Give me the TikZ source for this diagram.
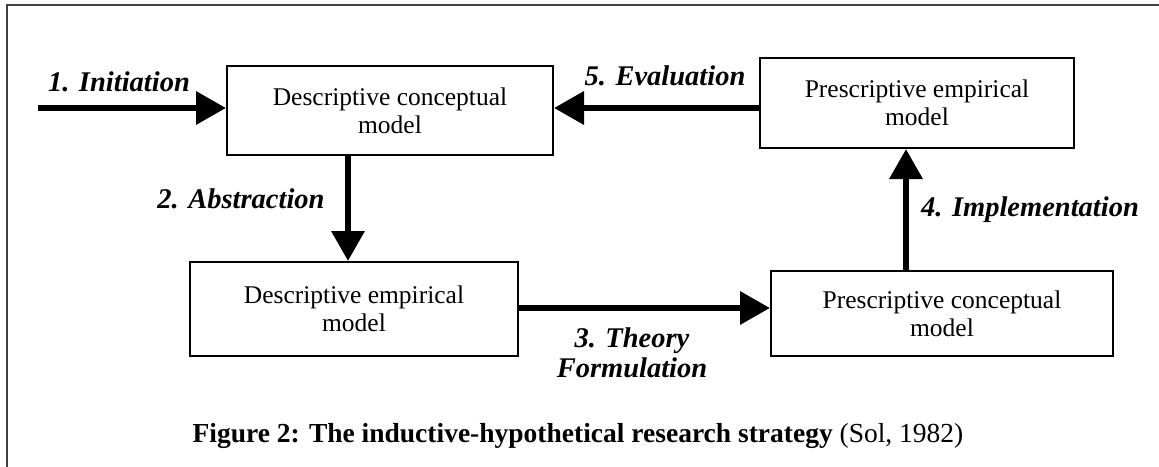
\documentclass[tikz,border=0pt]{standalone}
\usepackage{fontspec}
\setmainfont{Liberation Serif}
\usetikzlibrary{arrows.meta}
\begin{document}
\begin{tikzpicture}[x=1pt,y=-1pt,
  box/.style={draw, line width=2pt, align=center, font=\fontsize{25.5}{28}\selectfont, inner sep=0pt},
  flow/.style={line width=6.5pt, -{Triangle[length=30pt,width=32pt]}},
  lab/.style={font=\fontsize{28.5}{30}\selectfont\bfseries\itshape, anchor=base, inner sep=0pt}]
\useasboundingbox (0,0) rectangle (1159,466);
\draw[line width=1.5pt, black!75] (7,480) -- (7,5) -- (1175,5);
\node[box, minimum width=326pt, minimum height=89pt] (dcm) at (390,110.5) {Descriptive conceptual\\model};
\node[box, minimum width=314pt, minimum height=90pt] (pem) at (917,103) {Prescriptive empirical\\model};
\node[box, minimum width=328pt, minimum height=94pt] (dem) at (354,309) {Descriptive empirical\\model};
\node[box, minimum width=342pt, minimum height=85pt] (pcm) at (942,313.5) {Prescriptive conceptual\\model};
\coordinate (start) at (38,108);
\draw[flow] (start) -- (start -| dcm.west);
\draw[flow] ([yshift=-5pt]pem.west) -- ([yshift=2.5pt]dcm.east);
\draw[flow] ([xshift=-42pt]dcm.south) -- ([xshift=-6pt]dem.north);
\draw[flow] ([yshift=1pt]dem.east) -- ([yshift=5.5pt]pcm.west);
\draw[flow] ([xshift=-36pt]pcm.north) -- ([xshift=-11pt]pem.south);
\node[lab] (l1) at (119,91) {1. Initiation};
\node[lab] (l5) at (665,85) {5. Evaluation};
\node[lab] (l2) at (241,208) {2. Abstraction};
\node[lab] (l4) at (1030,216) {4. Implementation};
\node[lab] (l3a) at (632,347) {3. Theory};
\node[lab] (l3b) at (632,377) {Formulation};
\node[anchor=base, inner sep=0pt, font=\fontsize{27.5}{30}\selectfont] (cap) at (578,442) {\textbf{Figure 2: The inductive-hypothetical research strategy} (Sol, 1982)};
\end{tikzpicture}
\end{document}
